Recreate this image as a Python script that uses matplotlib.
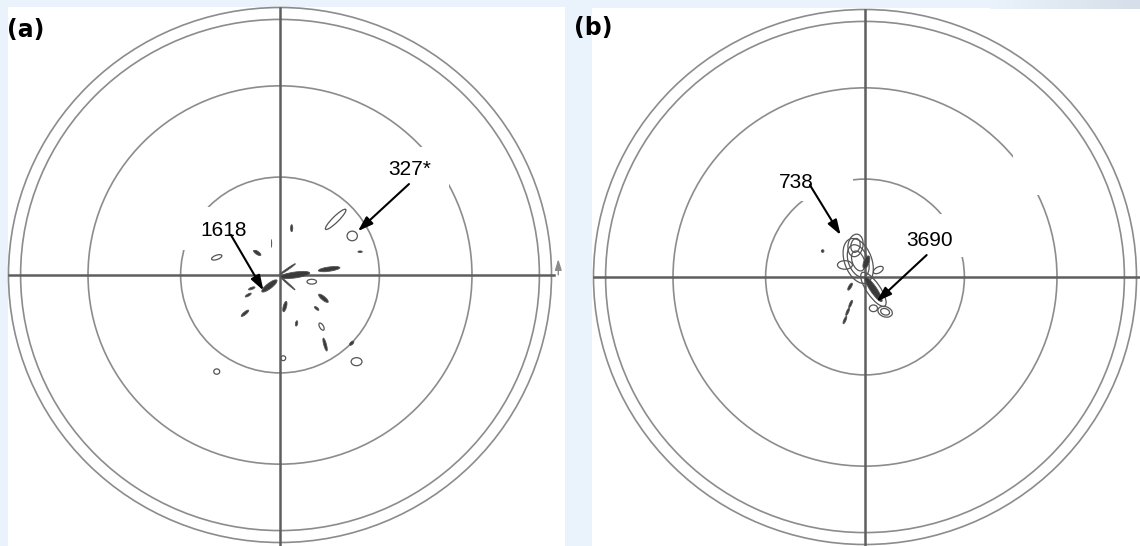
import numpy as np
import matplotlib.pyplot as plt
from matplotlib.colors import LinearSegmentedColormap
from matplotlib.patches import Ellipse, Circle, Rectangle

plt.rcParams['font.family'] = ['Liberation Sans', 'DejaVu Sans']

W, H = 1140, 546
BG = '#eaf2fb'

# pole-figure rings (tilt angle, degrees) drawn in equal-area projection
ring_tilts = [30, 60, 85, 90]

# panel (a): pole density islands  (u, v, length, width, angle, style)
a_u = [0.205, 0.043, 0.266, 0.295, -0.034, -0.084, -0.233, 0.055, 0.181, 0.117,
       0.028, -0.039, -0.104, -0.117, -0.129, 0.018, 0.061, 0.160, 0.135, 0.153,
       0.166, 0.264, 0.282, 0.012, -0.233, 0.028]
a_v = [0.208, 0.175, 0.146, 0.087, 0.118, 0.083, 0.066, 0.000, 0.022, -0.025,
       0.022, -0.041, -0.050, -0.075, -0.143, -0.118, -0.181, -0.087, -0.125, -0.193,
       -0.260, -0.255, -0.324, -0.311, -0.361, -0.031]
a_len = [0.105, 0.026, 0.038, 0.016, 0.030, 0.032, 0.040, 0.110, 0.080, 0.035,
         0.070, 0.070, 0.025, 0.025, 0.035, 0.040, 0.020, 0.045, 0.020, 0.030,
         0.050, 0.020, 0.040, 0.018, 0.022, 0.074]
a_wid = [0.022, 0.008, 0.036, 0.006, 0.007, 0.012, 0.016, 0.022, 0.016, 0.018,
         0.006, 0.020, 0.008, 0.008, 0.010, 0.012, 0.008, 0.014, 0.008, 0.014,
         0.010, 0.010, 0.030, 0.018, 0.020, 0.005]
a_ang = [45, 90, 0, 0, 90, -35, 20, 8, 8, 0,
         35, 38, 20, 30, 40, 75, 80, -40, -40, -60,
         -75, 45, 0, 0, 0, -42]
a_style = ['o', 'f', 'o', 'f', 'f', 'f', 'o', 'f', 'f', 'o',
           'f', 'f', 'f', 'f', 'f', 'f', 'f', 'f', 'f', 'o',
           'f', 'f', 'o', 'o', 'o', 'f']

# panel (b): contour islands  (u, v, length, width, angle, style, contour levels)
b_u = [-0.035, -0.025, -0.074, 0.031, 0.031, 0.074, 0.031, -0.074, -0.064,
       -0.053, -0.156, 0.049, -0.055, 0.005]
b_v = [0.118, 0.060, 0.045, -0.046, -0.046, -0.130, -0.117, -0.161, -0.130,
       -0.101, 0.097, 0.026, -0.036, 0.055]
b_len = [0.085, 0.175, 0.055, 0.150, 0.110, 0.055, 0.030, 0.030, 0.030,
         0.030, 0.010, 0.040, 0.030, 0.050]
b_wid = [0.055, 0.100, 0.032, 0.050, 0.024, 0.038, 0.025, 0.008, 0.008,
         0.008, 0.010, 0.022, 0.010, 0.020]
b_ang = [80, 110, 0, -56, -56, -20, 0, 67, 67, 67, 0, 30, 60, 70]
b_style = ['o', 'o', 'o', 'o', 'f', 'o', 'o', 'f', 'f', 'f', 'f', 'o', 'f', 'f']
b_levels = [2, 3, 1, 1, 1, 2, 1, 1, 1, 1, 1, 1, 1, 1]

# annotations: text, text position, arrow tail, arrow tip (panel units)
a_labels = ['1618', '327*']
a_label_xy = [(-0.209, 0.165), (0.479, 0.393)]
a_tail = [(-0.181, 0.150), (0.475, 0.340)]
a_tip = [(-0.061, -0.058), (0.287, 0.164)]
a_boxes = [(-0.368, 0.093, -0.033, 0.254), (0.295, 0.325, 0.622, 0.478)]

b_labels = ['738', '3690']
b_label_xy = [(-0.252, 0.355), (0.238, 0.138)]
b_tail = [(-0.203, 0.344), (0.227, 0.082)]
b_tip = [(-0.090, 0.157), (0.043, -0.092)]
b_boxes = [(-0.387, 0.284, -0.044, 0.437), (0.063, 0.075, 0.405, 0.236),
           (0.545, 0.307, 0.725, 0.470)]

SX, SY = 271.5, 267.5  # pixels per unit radius


def make_axes(fig, cx, cy, xlim, ylim):
    left = (cx + xlim[0] * SX) / W
    width = (xlim[1] - xlim[0]) * SX / W
    bottom = (H - (cy - ylim[0] * SY)) / H
    height = (ylim[1] - ylim[0]) * SY / H
    ax = fig.add_axes([left, bottom, width, height])
    ax.set_xlim(*xlim)
    ax.set_ylim(*ylim)
    ax.set_axis_off()
    ax.patch.set_alpha(0)
    ax.set_zorder(2)
    return ax


def draw_net(ax, ybottom):
    for t in ring_tilts:
        r = np.sqrt(2) * np.sin(np.radians(t) / 2)
        ax.add_patch(Circle((0, 0), r, fill=False, ec='#8c8c8c', lw=1.2, zorder=2))
    ax.plot([-1, 1.01], [0, 0], color='#5e5e5e', lw=1.8, zorder=3, clip_on=False)
    ax.plot([0, 0], [1, ybottom], color='#5e5e5e', lw=1.8, zorder=3, clip_on=False)
    ax.annotate('', xy=(1.025, 0.07), xytext=(1.025, -0.01),
                arrowprops=dict(arrowstyle='-|>,head_length=0.8,head_width=0.25',
                                mutation_scale=8, color='#8c8c8c', lw=1),
                annotation_clip=False)


def draw_islands(ax, u, v, ln, wd, ang, style, levels=None):
    for i in range(len(u)):
        n = levels[i] if levels else 1
        for k in range(n):
            s = 1 - k / (n + 0.6)
            if style[i] == 'f':
                e = Ellipse((u[i], v[i]), ln[i] * s, wd[i] * s, angle=ang[i],
                            fc='#3a3a3a', ec='#555555', lw=0.6, zorder=4)
            else:
                e = Ellipse((u[i], v[i]), ln[i] * s, wd[i] * s, angle=ang[i],
                            fill=False, ec='#555555', lw=0.9, zorder=4)
            ax.add_patch(e)


def draw_labels(ax, labels, xy, tail, tip, boxes):
    for x0, y0, x1, y1 in boxes:
        ax.add_patch(Rectangle((x0, y0), x1 - x0, y1 - y0, fc='white', ec='none',
                               zorder=5))
    for txt, p, t0, t1 in zip(labels, xy, tail, tip):
        ax.text(p[0], p[1], txt, fontsize=15, ha='center', va='center', zorder=6)
        ax.annotate('', xy=t1, xytext=t0,
                    arrowprops=dict(arrowstyle='-|>,head_length=0.9,head_width=0.3',
                                    mutation_scale=10, color='black', lw=1.5,
                                    shrinkA=0, shrinkB=0),
                    zorder=7)


fig = plt.figure(figsize=(W / 100, H / 100), dpi=100, facecolor=BG)

# white panel backgrounds
fig.patches.append(Rectangle((7.5 / W, 0), (565 - 7.5) / W, (H - 7) / H,
                             transform=fig.transFigure, fc='white', ec='none', zorder=-5))
fig.patches.append(Rectangle((592 / W, 0), (W - 592) / W, (H - 8) / H,
                             transform=fig.transFigure, fc='white', ec='none', zorder=-5))

# faint shaded strip in the top-right corner of the page
shade = LinearSegmentedColormap.from_list('shade', [BG, '#d6dfe9'])
strip = fig.add_axes([990 / W, 1 - 9 / H, 150 / W, 9 / H])
strip.imshow(np.linspace(0, 1, 50)[None, :], aspect='auto', cmap=shade)
strip.set_axis_off()

ax_a = make_axes(fig, 280, 275, (-1.03, 1.05), (-1.013, 1.028))
draw_net(ax_a, -1.013)
draw_islands(ax_a, a_u, a_v, a_len, a_wid, a_ang, a_style)
draw_labels(ax_a, a_labels, a_label_xy, a_tail, a_tip, a_boxes)

ax_b = make_axes(fig, 865, 277, (-1.03, 1.01), (-1.006, 1.035))
draw_net(ax_b, -1.006)
draw_islands(ax_b, b_u, b_v, b_len, b_wid, b_ang, b_style, b_levels)
draw_labels(ax_b, b_labels, b_label_xy, b_tail, b_tip, b_boxes)

fig.text(7 / W, 1 - 30 / H, '(a)', fontsize=17, fontweight='bold',
         family='DejaVu Sans', ha='left', va='center', zorder=10)
fig.text(574 / W, 1 - 28 / H, '(b)', fontsize=17, fontweight='bold',
         family='DejaVu Sans', ha='left', va='center', zorder=10)

fig.savefig('out.png', dpi=100, facecolor=BG)
